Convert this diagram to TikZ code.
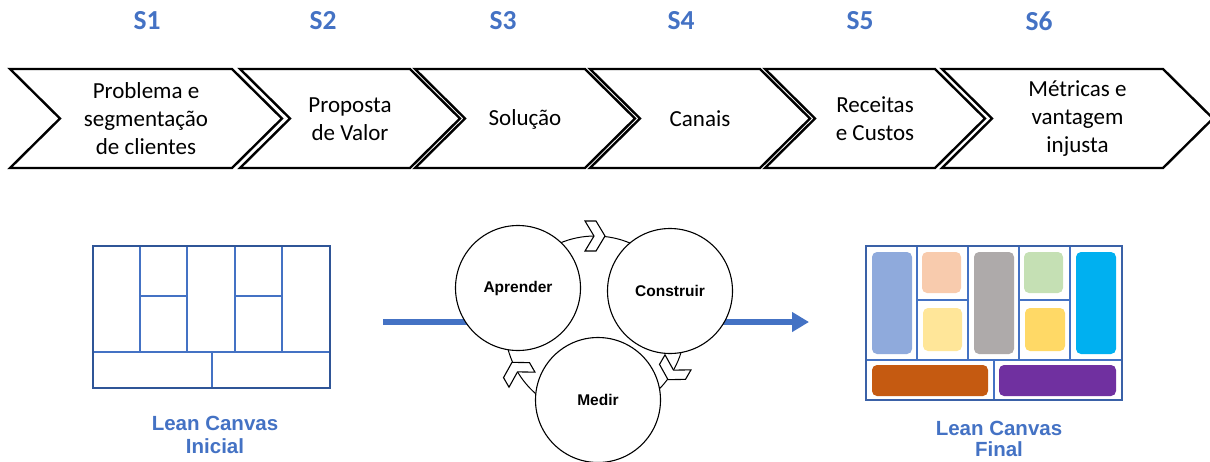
\documentclass[tikz,border=0pt]{standalone}
\usepackage{fontspec}
\setmainfont{Carlito}
\newfontfamily\arialfont{Liberation Sans}
\usetikzlibrary{arrows.meta,backgrounds}

\definecolor{accent}{HTML}{4472C4}
\definecolor{framedark}{HTML}{2F5597}
\definecolor{cA}{HTML}{8FAADC}
\definecolor{cB}{HTML}{F8CBAD}
\definecolor{cC}{HTML}{FFE699}
\definecolor{cD}{HTML}{AEAAAA}
\definecolor{cE}{HTML}{C5E0B4}
\definecolor{cF}{HTML}{FFD966}
\definecolor{cG}{HTML}{00B0F0}
\definecolor{cH}{HTML}{C55A11}
\definecolor{cI}{HTML}{7030A0}

\tikzset{
  chevron/.style={draw=black, line width=2.4pt, fill=white, line join=miter},
  steptext/.style={align=center, inner sep=0pt, font=\fontsize{23}{28}\selectfont},
  slabel/.style={text=accent, inner sep=0pt, font=\bfseries\fontsize{27.5}{30}\selectfont},
  cyc/.style={circle, draw=black, line width=1.1pt, fill=white, minimum size=125pt,
              inner sep=0pt, font=\arialfont\bfseries\fontsize{15.5}{18}\selectfont},
  ringline/.style={draw=black, line width=1pt},
  ringmark/.style={draw=black, fill=white, line width=1.1pt, line join=miter},
  flow/.style={draw=accent, line width=6pt},
  cellline/.style={draw=accent, line width=2pt},
  canvasframe/.style={draw=framedark, line width=2pt},
  block/.style={rounded corners=5pt},
  canvaslabel/.style={align=center, text=accent, inner sep=0pt,
                      font=\arialfont\bfseries\fontsize{20.5}{23.5}\selectfont},
}

\begin{document}
\begin{tikzpicture}[x=1pt, y=-1pt]
\useasboundingbox (0,0) rectangle (1210,461);

% process steps
\foreach \n/\a/\b/\txt in {
  1/10/232/{Problema e\\segmentação\\de clientes},
  2/240/410/{Proposta\\de Valor},
  3/415/585/{Solução},
  4/590/760/{Canais},
  5/765/935/{Receitas\\e Custos},
  6/942/1163/{Métricas e\\vantagem\\injusta}}
{
  \draw[chevron] (\a,69) -- (\b,69) -- (\b+50,118.5) -- (\b,168)
                 -- (\a,168) -- (\a+50,118.5) -- cycle;
  \node[steptext] (step\n) at ({(\a+50+\b)/2},119) {\txt};
}

% step labels
\foreach \n/\x in {1/147, 2/323, 3/503, 4/681, 5/860, 6/1039}
  \node[slabel] (s\n) at (\x,21) {S\n};

% build-measure-learn loop
\node[cyc] (apr) at (518,288) {Aprender};
\node[cyc] (con) at (670,291) {Construir};
\node[cyc] (med) at (598,400) {Medir};
\coordinate (ring) at (595,326);
\coordinate (flowin) at (383,322);
\coordinate (flowout) at (809,322);

\begin{scope}[on background layer]
  \draw[flow] (flowin) -- (apr.center |- flowin);
  \draw[flow, -{Triangle[width=19pt, length=17pt]}] (con.center |- flowout) -- (flowout);
  \draw[ringline] (ring) circle[radius=90];
  \foreach \p/\r in {{(595,236)}/0, {(673,371)}/-120, {(517,371)}/120}
    \draw[ringmark, shift={\p}, rotate=\r]
      (-10,-15) -- (1,-15) -- (10,0) -- (1,15) -- (-10,15) -- (-1,0) -- cycle;
\end{scope}

% initial lean canvas
\draw[cellline] (140,246) -- (140,352) (187,246) -- (187,352)
                (235,246) -- (235,352) (282,246) -- (282,352)
                (93,352) -- (330,352) (212,352) -- (212,388)
                (140,296) -- (187,296) (235,296) -- (282,296);
\draw[canvasframe] (93,246) rectangle (330,388);
\node[canvaslabel] (lcini) at (215,435) {Lean Canvas\\Inicial};

% final lean canvas
\fill[cA, block] (872,252) rectangle (912,354);
\fill[cB, block] (922,252) rectangle (961,293);
\fill[cC, block] (923,308) rectangle (962,351);
\fill[cD, block] (974,252) rectangle (1014,354);
\fill[cE, block] (1024,252) rectangle (1063,293);
\fill[cF, block] (1025,308) rectangle (1065,351);
\fill[cG, block] (1076,252) rectangle (1116,354);
\fill[cH, block] (872,365) rectangle (988,396);
\fill[cI, block] (999,365) rectangle (1116,396);
\draw[cellline] (917,246) -- (917,360) (968,246) -- (968,360)
                (1019,246) -- (1019,360) (1070,246) -- (1070,360)
                (866,360) -- (1122,360) (994,360) -- (994,400)
                (917,300) -- (968,300) (1019,300) -- (1070,300);
\draw[canvasframe, draw=accent!85!black] (866,246) rectangle (1122,400);
\node[canvaslabel, font=\arialfont\bfseries\fontsize{20.5}{21}\selectfont]
  (lcfin) at (999,439) {Lean Canvas\\Final};
\end{tikzpicture}
\end{document}
